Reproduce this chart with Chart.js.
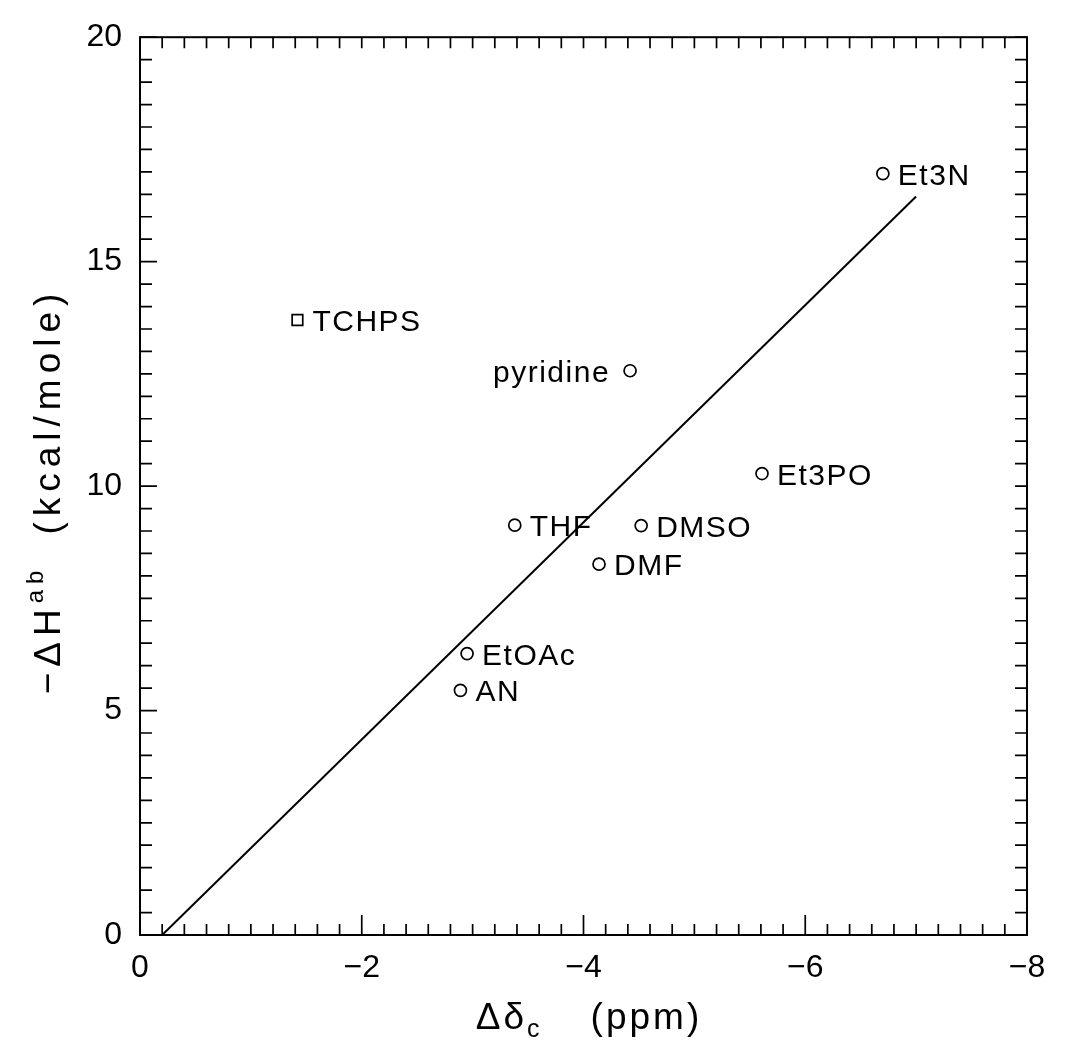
<!DOCTYPE html>
<html>
<head>
<meta charset="utf-8">
<script src="https://cdn.jsdelivr.net/npm/chart.js@4.4.0/dist/chart.umd.min.js"></script>
<style>
  html, body { margin: 0; padding: 0; background: #fff; }
  #wrap { width: 1078px; height: 1040px; }
</style>
</head>
<body>
<div id="wrap"><canvas id="chart"></canvas></div>
<script>
// solvents (x = shift in ppm, y = -dH in kcal/mole)
const names = ['TCHPS', 'pyridine', 'Et3N', 'Et3PO', 'THF', 'DMSO', 'DMF', 'EtOAc', 'AN'];
const shiftPpm = [-1.42, -4.42, -6.70, -5.61, -3.38, -4.52, -4.14, -2.95, -2.89];
const enthalpy = [13.70, 12.57, 16.96, 10.28, 9.13, 9.12, 8.26, 6.27, 5.45];

// fitted line end points
const fitX = [-0.2, -7.0];
const fitY = [0, 16.45];

// tick labels
const xTicks = [0, -2, -4, -6, -8];
const xTickLabels = ['0', '\u22122', '\u22124', '\u22126', '\u22128'];
const yTicks = [0, 5, 10, 15, 20];
const yTickLabels = ['0', '5', '10', '15', '20'];

const FONT = '"Liberation Sans", Arial, sans-serif';

// box + inward tick marks on all four sides
const frameTicks = {
    id: 'frameTicks',
    afterDraw(chart) {
        const { ctx, chartArea: a, scales: { x, y } } = chart;
        ctx.save();
        ctx.strokeStyle = '#000';
        ctx.lineWidth = 2;
        ctx.strokeRect(a.left, a.top, a.right - a.left, a.bottom - a.top);
        ctx.lineWidth = 1.7;
        ctx.beginPath();
        for (let i = 0; i <= 40; i++) {
            const px = x.getPixelForValue(-i * 0.2);
            const major = i % 10 === 0;
            ctx.moveTo(px, a.bottom); ctx.lineTo(px, a.bottom - (major ? 20 : 11));
            ctx.moveTo(px, a.top); ctx.lineTo(px, a.top + 11);
        }
        for (let i = 0; i <= 40; i++) {
            const py = y.getPixelForValue(i * 0.5);
            const major = i % 10 === 0;
            ctx.moveTo(a.left, py); ctx.lineTo(a.left + (major ? 17 : 12), py);
            ctx.moveTo(a.right, py); ctx.lineTo(a.right - 12, py);
        }
        ctx.stroke();
        ctx.restore();
    }
};

// draws a run of text pieces (with sub/superscripts) centred on cx
function drawPieces(ctx, pieces, cx, baseY, spacing) {
    ctx.letterSpacing = spacing + 'px';
    let total = 0;
    pieces.forEach(p => {
        if (p.gap) { total += p.gap; return; }
        ctx.font = p.size + 'px ' + FONT;
        p.w = ctx.measureText(p.t).width;
        total += p.w;
    });
    let cur = cx - total / 2;
    pieces.forEach(p => {
        if (p.gap) { cur += p.gap; return; }
        ctx.font = p.size + 'px ' + FONT;
        ctx.fillText(p.t, cur, baseY + (p.dy || 0));
        cur += p.w;
    });
    ctx.letterSpacing = '0px';
}

// axis titles
const axisTitles = {
    id: 'axisTitles',
    afterDraw(chart) {
        const ctx = chart.ctx;
        ctx.save();
        ctx.fillStyle = '#000';
        ctx.textBaseline = 'alphabetic';
        ctx.textAlign = 'left';
        drawPieces(ctx, [
            { t: '\u0394\u03b4', size: 37 },
            { t: 'c', size: 25, dy: 8 },
            { gap: 48 },
            { t: '(ppm)', size: 37 }
        ], 589, 1029, 3);

        ctx.translate(60, 491);
        ctx.rotate(-Math.PI / 2);
        drawPieces(ctx, [
            { t: '\u2212\u0394H', size: 37 },
            { t: 'ab', size: 24, dy: -17 },
            { gap: 30 },
            { t: '(kcal/mole)', size: 37 }
        ], 0, 0, 6);
        ctx.restore();
    }
};

// solvent names beside each marker
const pointNames = {
    id: 'pointNames',
    afterDatasetsDraw(chart) {
        const ctx = chart.ctx;
        const pts = chart.getDatasetMeta(0).data;
        ctx.save();
        ctx.fillStyle = '#000';
        ctx.font = '30px ' + FONT;
        ctx.letterSpacing = '1.5px';
        ctx.textBaseline = 'alphabetic';
        pts.forEach((pt, i) => {
            if (names[i] === 'pyridine') {
                ctx.textAlign = 'right';
                ctx.fillText(names[i], pt.x - 20, pt.y + 11);
            } else {
                ctx.textAlign = 'left';
                ctx.fillText(names[i], pt.x + 15, pt.y + 11);
            }
        });
        ctx.restore();
    }
};

const ctx = document.getElementById('chart').getContext('2d');
const chart = new Chart(ctx, {
    type: 'scatter',
    data: {
        datasets: [{
            label: 'solvents',
            data: names.map((n, i) => ({ x: shiftPpm[i], y: enthalpy[i] })),
            pointStyle: names.map(n => n === 'TCHPS' ? 'rect' : 'circle'),
            pointRadius: names.map(n => n === 'TCHPS' ? 7.5 : 6),
            borderColor: '#000',
            backgroundColor: 'rgba(0,0,0,0)',
            borderWidth: 1.7,
            showLine: false
        }, {
            label: 'fit',
            data: fitX.map((v, i) => ({ x: v, y: fitY[i] })),
            showLine: true,
            pointRadius: 0,
            borderColor: '#000',
            borderWidth: 2
        }]
    },
    options: {
        responsive: true,
        maintainAspectRatio: false,
        animation: false,
        layout: { padding: { top: 22, right: 51, bottom: 0, left: 0 } },
        plugins: { legend: { display: false }, tooltip: { enabled: false } },
        scales: {
            x: {
                type: 'linear',
                min: -8, max: 0,
                reverse: true,
                grid: { display: false, drawTicks: false },
                border: { display: false },
                afterFit: s => { s.height = 105; },
                afterBuildTicks: s => { s.ticks = xTicks.map(v => ({ value: v })); },
                ticks: {
                    padding: 14,
                    color: '#000',
                    font: { family: FONT, size: 32 },
                    maxRotation: 0,
                    callback: v => xTickLabels[xTicks.indexOf(v)]
                }
            },
            y: {
                type: 'linear',
                min: 0, max: 20,
                grid: { display: false, drawTicks: false },
                border: { display: false },
                afterFit: s => { s.width = 140; },
                afterBuildTicks: s => { s.ticks = yTicks.map(v => ({ value: v })); },
                ticks: {
                    padding: 18,
                    color: '#000',
                    font: { family: FONT, size: 32 },
                    callback: v => yTickLabels[yTicks.indexOf(v)]
                }
            }
        }
    },
    plugins: [frameTicks, axisTitles, pointNames]
});
</script>
</body>
</html>
